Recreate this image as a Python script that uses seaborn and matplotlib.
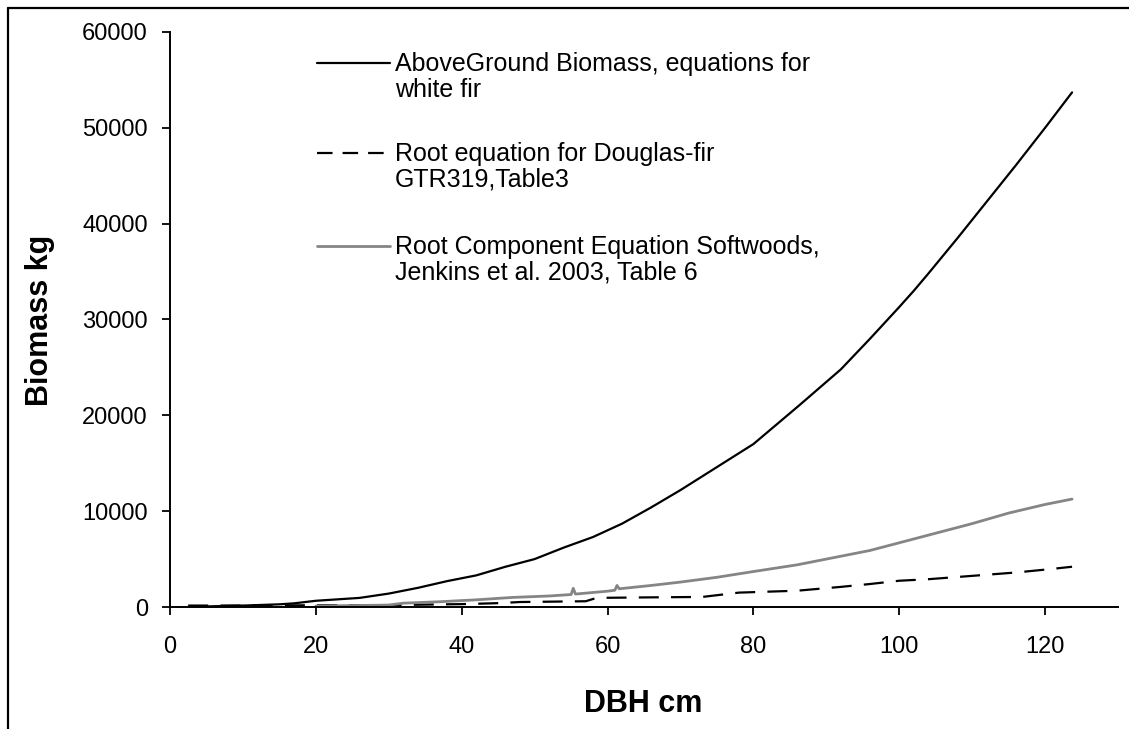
import matplotlib
matplotlib.use("Agg")
import matplotlib.pyplot as plt
from matplotlib.lines import Line2D
import seaborn as sns

# ---------------- data ----------------
above_x = [2.5, 5, 10, 15, 17, 20, 23, 26, 30, 34, 38, 42, 46, 50, 54, 58, 62, 66,
           70, 75, 80, 86.3, 92, 96, 100, 102, 104, 108, 112, 116, 120, 123.7]
above_y = [30, 60, 150, 280, 380, 650, 800, 950, 1400, 2000, 2700, 3300, 4200, 5000,
           6200, 7300, 8700, 10400, 12200, 14600, 17000, 21050, 24800, 28000, 31300,
           33000, 34800, 38500, 42300, 46100, 50000, 53700]

doug_x = [2.5, 10, 20, 30, 40, 45, 48, 57, 58.5, 65, 73, 78, 86, 92, 96, 100, 104,
          110, 116, 120, 123.7]
doug_y = [150, 150, 180, 200, 300, 400, 520, 600, 950, 1000, 1050, 1500, 1700, 2100,
          2400, 2740, 2900, 3250, 3600, 3900, 4200]

jenk_x = [20, 25, 30, 32, 37, 42, 47, 52, 55, 55.3, 55.6, 60, 61, 61.3, 61.6, 66, 70,
          75, 80, 86, 92, 96, 100, 105, 110, 115, 120, 123.7]
jenk_y = [100, 150, 200, 400, 550, 750, 1000, 1150, 1300, 1950, 1350, 1650, 1750, 2250,
          1900, 2250, 2600, 3100, 3700, 4400, 5300, 5900, 6700, 7700, 8700, 9800,
          10700, 11260]

labels = [
    ["AboveGround Biomass, equations for", "white fir"],
    ["Root equation for Douglas-fir", "GTR319,Table3"],
    ["Root Component Equation Softwoods,", "Jenkins et al. 2003, Table 6"],
]
x_ticks = [0, 20, 40, 60, 80, 100, 120]
y_ticks = [0, 10000, 20000, 30000, 40000, 50000, 60000]

# ---------------- style ----------------
sns.set_style("white")
plt.rcParams["font.family"] = ["Liberation Sans", "DejaVu Sans"]
plt.rcParams["text.color"] = "black"
plt.rcParams["axes.labelcolor"] = "black"
plt.rcParams["xtick.color"] = "black"
plt.rcParams["ytick.color"] = "black"

W, H = 1129, 729
fig = plt.figure(figsize=(W / 100, H / 100), dpi=100)
L, R, T, B = 170, 1118, 32, 607
ax = fig.add_axes([L / W, 1 - B / H, (R - L) / W, (B - T) / H])

black = "#000000"
grey = "#858585"

sns.lineplot(x=above_x, y=above_y, ax=ax, color=black, linewidth=1.6,
             estimator=None, sort=False)
sns.lineplot(x=doug_x, y=doug_y, ax=ax, color=black, linewidth=1.6,
             estimator=None, sort=False)
ax.lines[-1].set_dashes([9, 5.5])
sns.lineplot(x=jenk_x, y=jenk_y, ax=ax, color=grey, linewidth=2.0,
             estimator=None, sort=False)

ax.set_xlim(0, 130)
ax.set_ylim(0, 60000)
ax.set_xticks(x_ticks)
ax.set_yticks(y_ticks)
ax.set_xticklabels([str(v) for v in x_ticks])
ax.set_yticklabels([str(v) for v in y_ticks])
ax.tick_params(axis="both", direction="out", length=6, width=1.3, colors="black",
               labelcolor="black", labelsize=17, bottom=True, left=True)
ax.tick_params(axis="x", pad=15)
ax.tick_params(axis="y", pad=10)
for s in ["top", "right"]:
    ax.spines[s].set_visible(False)
for s in ["left", "bottom"]:
    ax.spines[s].set_color("black")
    ax.spines[s].set_linewidth(1.4)
ax.set_xlabel("")
ax.set_ylabel("")

# ---------------- legend (drawn manually, handle aligned to first line) ----------------
def ax_y(py):
    return (B - py) / (B - T)

def ax_x(px):
    return (px - L) / (R - L)

styles = [dict(color=black, lw=1.6, ls="-"),
          dict(color=black, lw=1.6, dashes=[7, 4.5]),
          dict(color=grey, lw=2.0, ls="-")]
handle_y = [63, 153, 246]
base_y = [71, 161, 254]
for st, hy, by, lab in zip(styles, handle_y, base_y, labels):
    ln = Line2D([ax_x(317), ax_x(390)], [ax_y(hy), ax_y(hy)], transform=ax.transAxes,
                **st)
    ax.add_line(ln)
    ax.text(ax_x(395), ax_y(by), lab[0], transform=ax.transAxes, fontsize=18,
            va="baseline", ha="left", color="black")
    ax.text(ax_x(395), ax_y(by + 26), lab[1], transform=ax.transAxes, fontsize=18,
            va="baseline", ha="left", color="black")

# ---------------- axis titles ----------------
fig.text(643 / W, 1 - 704 / H, "DBH cm", fontsize=22, fontweight="bold",
         ha="center", va="center", color="black")
fig.text(40 / W, 1 - 320 / H, "Biomass kg", fontsize=22, fontweight="bold",
         ha="center", va="center", rotation=90, color="black")

# ---------------- chart-area border (top and left visible) ----------------
fig.add_artist(Line2D([8 / W, 1.0], [1 - 8 / H, 1 - 8 / H], transform=fig.transFigure,
                      color="black", lw=1.6))
fig.add_artist(Line2D([8 / W, 8 / W], [0.0, 1 - 8 / H], transform=fig.transFigure,
                      color="black", lw=1.6))

fig.savefig("out.png", dpi=100, facecolor="white")
